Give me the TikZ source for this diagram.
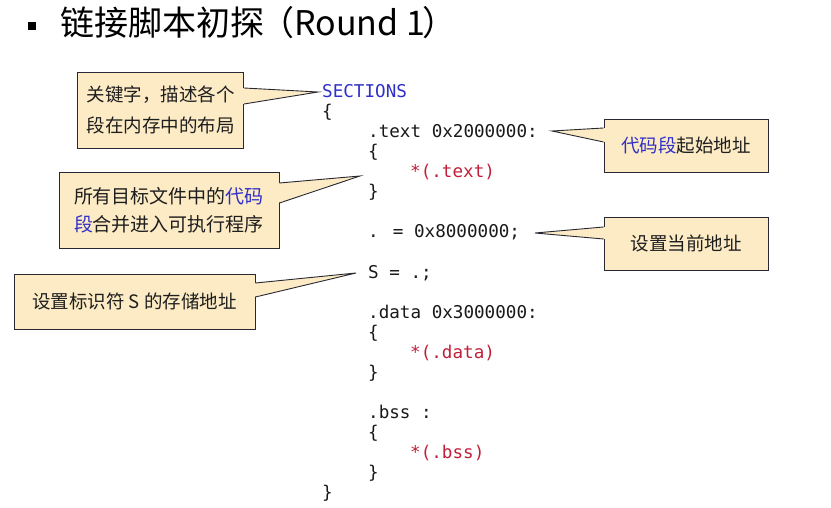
\documentclass[tikz,border=0pt]{standalone}
\usepackage{fontspec}
\setmainfont{Noto Sans CJK SC}
\newfontfamily\cjkfont{Noto Sans CJK SC}
\newfontfamily\codefont{DejaVu Sans Mono}
\definecolor{callfill}{RGB}{252,235,197}
\definecolor{calledge}{RGB}{40,40,50}
\definecolor{kwblue}{RGB}{48,48,200}
\definecolor{codered}{RGB}{192,32,58}
\definecolor{codeblack}{RGB}{25,25,25}
\definecolor{txt}{RGB}{30,30,30}
\tikzset{
  code/.style={anchor=base west, inner sep=0pt, font=\codefont\fontsize{17.6}{20}\selectfont, text=codeblack},
  callbox/.style={draw=calledge, line width=0.9pt, fill=callfill, inner sep=0pt, align=center,
     text=txt, font=\cjkfont\fontsize{18.5}{31}\selectfont},
  wedgefill/.style={fill=callfill},
  wedgeline/.style={draw=calledge, line width=0.9pt, line join=miter},
}
\begin{document}
\begin{tikzpicture}[x=1pt,y=-1pt]
\useasboundingbox[fill=white] (0,0) rectangle (831,508);
% title
\node[fill=black, minimum size=8pt, inner sep=0pt] (bul) at (32,26) {};
\node[anchor=base west, inner sep=0pt, font=\cjkfont\fontsize{34}{40}\selectfont, text=black] (title) at (60,36)
  {链接脚本初探\kern-4pt（Round 1\kern-2pt）};
% code
\node[code, text=kwblue] (l1) at (322,98) {SECTIONS};
\node[code] (l2) at (322,118) {\{};
\node[code] (l3) at (368,138) {.text 0x2000000:};
\node[code] (l4) at (368,158) {\{};
\node[code, text=codered] (l5) at (410,178) {*(.text)};
\node[code] (l6) at (368,198) {\}};
\node[code] (l7) at (368,238) {. = 0x8000000;};
\node[code] (l8) at (368,278) {S = .;};
\node[code] (l9) at (368,318) {.data 0x3000000:};
\node[code] (l10) at (368,338) {\{};
\node[code, text=codered] (l11) at (410,358) {*(.data)};
\node[code] (l12) at (368,378) {\}};
\node[code] (l13) at (368,418) {.bss :};
\node[code] (l14) at (368,438) {\{};
\node[code, text=codered] (l15) at (410,458) {*(.bss)};
\node[code] (l16) at (368,478) {\}};
\node[code] (l17) at (322,498) {\}};
% callout boxes
\node[callbox, minimum width=166pt, minimum height=76pt] (c1) at (160.5,110)
  {关键字，描述各个\\段在内存中的布局};
\node[callbox, minimum width=164pt, minimum height=53pt] (c2) at (686,145.5)
  {\textcolor{kwblue}{代码段}起始地址};
\node[callbox, minimum width=220pt, minimum height=76pt, font=\cjkfont\fontsize{19}{28}\selectfont] (c3) at (169,210)
  {所有目标文件中的\textcolor{kwblue}{代码}\\\textcolor{kwblue}{段}合并进入可执行程序};
\node[callbox, minimum width=164pt, minimum height=53pt] (c4) at (686,243.5)
  {设置当前地址};
\node[callbox, minimum width=241pt, minimum height=55pt] (c5) at (134.5,301.5)
  {设置标识符 S 的存储地址};
% pointer tips
\coordinate (t1) at (318,92);
\coordinate (t2) at (552,131);
\coordinate (t3) at (360,176);
\coordinate (t4) at (535,233);
\coordinate (t5) at (356,273);
% wedges
\fill[wedgefill] ([xshift=-1.5pt]c1.east |- 0,88) -- (t1) -- ([xshift=-1.5pt]c1.east |- 0,104) -- cycle;
\draw[wedgeline] (c1.east |- 0,88) -- (t1) -- (c1.east |- 0,104);
\fill[wedgefill] ([xshift=1.5pt]c2.west |- 0,128) -- (t2) -- ([xshift=1.5pt]c2.west |- 0,142) -- cycle;
\draw[wedgeline] (c2.west |- 0,128) -- (t2) -- (c2.west |- 0,142);
\fill[wedgefill] ([xshift=-1.5pt]c3.east |- 0,183) -- (t3) -- ([xshift=-1.5pt]c3.east |- 0,203) -- cycle;
\draw[wedgeline] (c3.east |- 0,183) -- (t3) -- (c3.east |- 0,203);
\fill[wedgefill] ([xshift=1.5pt]c4.west |- 0,227) -- (t4) -- ([xshift=1.5pt]c4.west |- 0,239) -- cycle;
\draw[wedgeline] (c4.west |- 0,227) -- (t4) -- (c4.west |- 0,239);
\fill[wedgefill] ([xshift=-1.5pt]c5.east |- 0,283) -- (t5) -- ([xshift=-1.5pt]c5.east |- 0,297) -- cycle;
\draw[wedgeline] (c5.east |- 0,283) -- (t5) -- (c5.east |- 0,297);
\end{tikzpicture}
\end{document}
